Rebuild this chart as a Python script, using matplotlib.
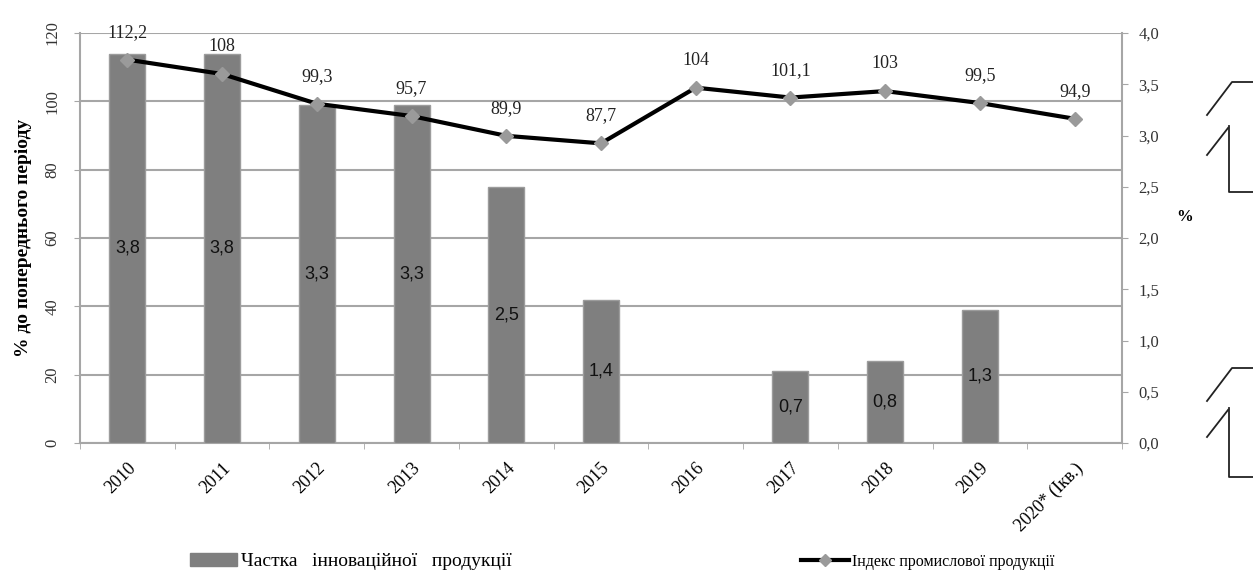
import numpy as np
import matplotlib.pyplot as plt
from matplotlib.lines import Line2D

years = ["2010", "2011", "2012", "2013", "2014", "2015", "2016", "2017", "2018", "2019", "2020* (Ікв.)"]
innov_share = [3.8, 3.8, 3.3, 3.3, 2.5, 1.4, np.nan, 0.7, 0.8, 1.3, np.nan]
prod_index = [112.2, 108, 99.3, 95.7, 89.9, 87.7, 104, 101.1, 103, 99.5, 94.9]
left_ticks = [0, 20, 40, 60, 80, 100, 120]
right_ticks = [0.0, 0.5, 1.0, 1.5, 2.0, 2.5, 3.0, 3.5, 4.0]


def comma(v, fmt="{:.1f}"):
    return fmt.format(v).replace(".", ",")


plt.rcParams["font.family"] = ["Liberation Serif", "DejaVu Serif"]
fig = plt.figure(figsize=(12.53, 5.76), dpi=100)
ax = fig.add_axes([80 / 1253, 133 / 576, 1042 / 1253, 410 / 576])
ax2 = ax.twinx()
ax3 = ax.twinx()  # line layer on top, shares the left scale

x = np.arange(len(years))
grid_c = "#a6a6a6"

# bars on the right (%) axis
ax2.bar(x, innov_share, width=0.38, color="#7f7f7f", edgecolor="#9c9c9c", linewidth=1, zorder=2)
for xi, v in zip(x, innov_share):
    if not np.isnan(v):
        ax2.text(xi, v / 2, comma(v), ha="center", va="center", fontsize=13,
                 family=["Liberation Sans"], color="#111111", zorder=5)
ax2.set_ylim(0, 4.0)
ax2.set_yticks(right_ticks)
ax2.set_yticklabels([comma(t) for t in right_ticks], fontsize=12, color="#333333")
ax2.set_ylabel("%", rotation=0, fontsize=12, fontweight="bold")
ax2.yaxis.set_label_coords(1.06, 0.57)

# line on the left axis scale
ax3.set_ylim(0, 120)
ax3.axis("off")
ax3.plot(x, prod_index, color="black", linewidth=3, marker="D", markersize=7,
         markerfacecolor="#9a9a9a", markeredgecolor="#9a9a9a", zorder=4)
for xi, v in zip(x, prod_index):
    lbl = comma(v) if v != int(v) else str(int(v))
    ax3.text(xi, v + 5.5, lbl, ha="center", va="bottom", fontsize=13, color="#222222")

ax.set_ylim(0, 120)
ax.set_xlim(-0.5, len(years) - 0.5)
ax.set_yticks(left_ticks)
ax.set_yticklabels([str(t) for t in left_ticks], rotation=90, va="center", fontsize=12, color="#333333")
ax.set_ylabel("% до попереднього періоду", fontsize=14, fontweight="bold")
ax.yaxis.set_label_coords(-0.046, 0.5)
ax.yaxis.grid(True, color=grid_c, linewidth=1.5)
ax.set_axisbelow(True)
ax.set_xticks(x)
ax.set_xticklabels(years, rotation=45, ha="right", va="top", rotation_mode="anchor", fontsize=13)
ax.tick_params(axis="x", length=0, pad=12)
ax.set_xticks(np.arange(-0.5, len(years), 1), minor=True)
ax.tick_params(axis="x", which="minor", length=4, color=grid_c)
ax.tick_params(axis="y", length=4, color=grid_c, pad=10)
ax2.tick_params(axis="y", length=4, color=grid_c, pad=8)

for a in (ax, ax2, ax3):
    a.spines["top"].set_visible(False)
ax.spines["right"].set_visible(False)
ax2.spines["left"].set_visible(False)
ax2.spines["bottom"].set_visible(False)
ax.spines["left"].set_color(grid_c)
ax.spines["bottom"].set_color(grid_c)
ax2.spines["right"].set_color(grid_c)
ax.spines["left"].set_linewidth(1.5)
ax2.spines["right"].set_linewidth(1.5)
ax.spines["bottom"].set_linewidth(1.5)

bar_handle = plt.Rectangle((0, 0), 1, 1, color="#7f7f7f")
line_handle = Line2D([0], [0], color="black", linewidth=3, marker="D", markersize=6,
                     markerfacecolor="#9a9a9a", markeredgecolor="#9a9a9a")
fig.legend([bar_handle], ["Частка   інноваційної   продукції"],
           loc="center left", bbox_to_anchor=(0.138, 0.025), frameon=False,
           fontsize=14, handlelength=2.4, handletextpad=0.2)
fig.legend([line_handle], ["Індекс промислової продукції"],
           loc="center left", bbox_to_anchor=(0.628, 0.025), frameon=False,
           fontsize=11.5, handlelength=3.0, handletextpad=0.2)

# bracket marks at right edge
W, H = 1253, 576
def seg(xs, ys):
    fig.add_artist(Line2D([v / W for v in xs], [1 - v / H for v in ys],
                          color="#222222", linewidth=1.3))
for top in (82, 368):
    seg([1207, 1232, 1253], [top + 33, top, top])
for top, bottom in ((128, 192), (410, 477)):
    seg([1207, 1228], [top + 27, top])
    seg([1229, 1229, 1253], [top - 2, bottom, bottom])

fig.savefig("out.png", dpi=100)
